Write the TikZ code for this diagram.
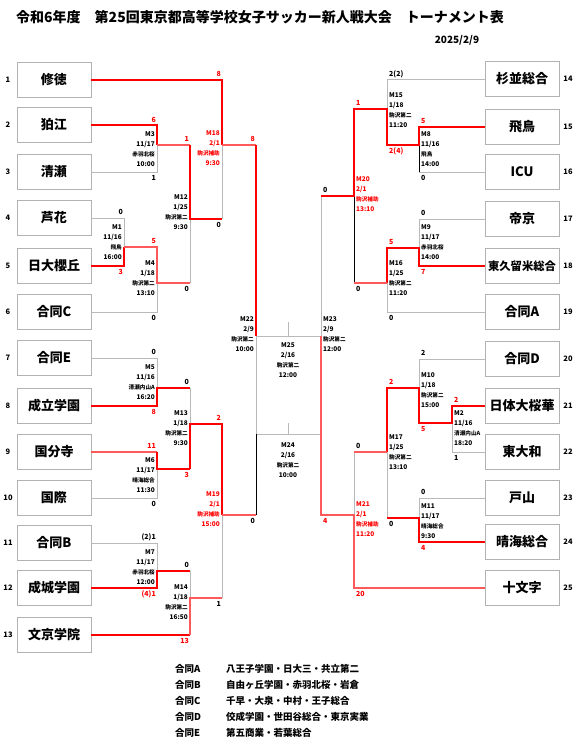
\documentclass[tikz,border=0pt]{standalone}
\usepackage{fontspec}
\setmainfont{Noto Sans CJK JP}
\newcommand{\ven}[1]{{\fontsize{5.6}{10.3}\selectfont #1}}
\begin{document}
\begin{tikzpicture}[x=1pt,y=-1pt,
  team/.style={draw=gray!60,line width=0.8pt,minimum width=74pt,minimum height=35pt,inner sep=0pt,font=\fontsize{13}{13}\selectfont\bfseries},
  num/.style={inner sep=0pt,font=\fontsize{7.5}{8}\selectfont\bfseries},
  win/.style={red,line width=2.2pt},
  winl/.style={red!65,line width=1.6pt},
  lose/.style={gray!55,line width=0.8pt},
  losek/.style={black,line width=0.8pt},
  sc/.style={inner sep=0pt,font=\fontsize{7}{8}\selectfont\bfseries},
  scL/.style={sc,anchor=east},
  scR/.style={sc,anchor=west},
  infoL/.style={anchor=north east,align=right,inner sep=0pt,font=\fontsize{6.5}{10.3}\selectfont\bfseries},
  infoR/.style={anchor=north west,align=left,inner sep=0pt,font=\fontsize{6.5}{10.3}\selectfont\bfseries},
  infoC/.style={anchor=north,align=center,inner sep=0pt,font=\fontsize{6.5}{10.3}\selectfont\bfseries},
  leg/.style={anchor=west,inner sep=0pt,font=\fontsize{9.5}{10}\selectfont\bfseries}]
\useasboundingbox (0,0) rectangle (579,756);

\node[font=\fontsize{14}{14}\selectfont\bfseries] (title) at (260,17) {令和6年度　第25回東京都高等学校女子サッカー新人戦大会　トーナメント表};
\node[font=\fontsize{10}{10}\selectfont\bfseries] (date) at (457,40) {2025/2/9};

\node[team] (t1) at (54,80) {修徳};
\node[team] (t2) at (54,125) {狛江};
\node[team] (t3) at (54,172) {清瀬};
\node[team] (t4) at (54,218) {芦花};
\node[team] (t5) at (54,266) {日大櫻丘};
\node[team] (t6) at (54,312) {合同C};
\node[team] (t7) at (54,358) {合同E};
\node[team] (t8) at (54,406) {成立学園};
\node[team] (t9) at (54,452) {国分寺};
\node[team] (t10) at (54,498) {国際};
\node[team] (t11) at (54,543) {合同B};
\node[team] (t12) at (54,588) {成城学園};
\node[team] (t13) at (54,635) {文京学院};
\node[team] (t14) at (522,79) {杉並総合};
\node[team] (t15) at (522,127) {飛鳥};
\node[team] (t16) at (522,172) {ICU};
\node[team] (t17) at (522,219) {帝京};
\node[team,font=\fontsize{11.3}{12}\selectfont\bfseries] (t18) at (522,266) {東久留米総合};
\node[team] (t19) at (522,312) {合同A};
\node[team] (t20) at (522,359) {合同D};
\node[team] (t21) at (522,406) {日体大桜華};
\node[team] (t22) at (522,452) {東大和};
\node[team] (t23) at (522,498) {戸山};
\node[team] (t24) at (522,542) {晴海総合};
\node[team] (t25) at (522,588) {十文字};

\node[num] (n1) at (8,80) {1};
\node[num] (n2) at (8,125) {2};
\node[num] (n3) at (8,172) {3};
\node[num] (n4) at (8,218) {4};
\node[num] (n5) at (8,266) {5};
\node[num] (n6) at (8,312) {6};
\node[num] (n7) at (8,358) {7};
\node[num] (n8) at (8,406) {8};
\node[num] (n9) at (8,452) {9};
\node[num] (n10) at (8,498) {10};
\node[num] (n11) at (8,543) {11};
\node[num] (n12) at (8,588) {12};
\node[num] (n13) at (8,635) {13};
\node[num] (n14) at (568,79) {14};
\node[num] (n15) at (568,127) {15};
\node[num] (n16) at (568,172) {16};
\node[num] (n17) at (568,219) {17};
\node[num] (n18) at (568,266) {18};
\node[num] (n19) at (568,312) {19};
\node[num] (n20) at (568,359) {20};
\node[num] (n21) at (568,406) {21};
\node[num] (n22) at (568,452) {22};
\node[num] (n23) at (568,498) {23};
\node[num] (n24) at (568,542) {24};
\node[num] (n25) at (568,588) {25};

\coordinate (M1) at (124,247);
\coordinate (M3) at (157,145);
\coordinate (M4) at (157,283);
\coordinate (M5) at (157,388);
\coordinate (M6) at (157,469);
\coordinate (M7) at (157,571);
\coordinate (M12) at (190,219);
\coordinate (M13) at (190,424);
\coordinate (M14) at (190,598);
\coordinate (M18) at (222,145);
\coordinate (M19) at (222,515);
\coordinate (M22) at (256,336);
\coordinate (M2) at (452,423);
\coordinate (M8) at (419,145);
\coordinate (M9) at (419,248);
\coordinate (M10) at (419,388);
\coordinate (M11) at (419,518);
\coordinate (M15) at (387,109);
\coordinate (M16) at (387,283);
\coordinate (M17) at (387,452);
\coordinate (M20) at (354,196);
\coordinate (M21) at (354,515);
\coordinate (M23) at (321,336);
\coordinate (M25) at (288,336);
\coordinate (M25t) at (288,322);
\coordinate (M24) at (288,434);
\coordinate (M24t) at (288,423);
\coordinate (M24L) at (256,434);
\coordinate (M24R) at (321,434);

\draw[lose] (t3.east) -| (M3);
\draw[lose] (t4.east) -| (M1);
\draw[lose] (t6.east) -| (M4);
\draw[lose] (M4 -| M12) -- (M12);
\draw[lose] (M12 -| M18) -- (M18);
\draw[lose] (M22) -- (M24L) -- (M24R);
\draw[lose] (M22) -- (M23);
\draw[lose] (M25) -- (M25t);
\draw[lose] (M24) -- (M24t);
\draw[lose] (t7.east) -| (M5);
\draw[lose] (t10.east) -| (M6);
\draw[lose] (M5 -| M13) -- (M13);
\draw[lose] (M14 -| M19) -- (M19);
\draw[lose] (t11.east) -| (M7);
\draw[lose] (M7 -| M14) -- (M14);
\draw[losek] (M19 -| M22) -- (M24L);
\draw[lose] (t14.west) -| (M15);
\draw[lose] (t16.west) -- (t16.west -| M8);
\draw[losek] (t16.west -| M8) -- (M8);
\draw[lose] (t17.west) -| (M9);
\draw[lose] (t19.west) -| (M16);
\draw[losek] (M16 -| M20) -- (M20);
\draw[lose] (M20 -| M23) -- (M23);
\draw[lose] (t20.west) -| (M10);
\draw[lose] (t22.west) -| (M2);
\draw[lose] (t23.west) -| (M11);
\draw[lose] (M11 -| M17) -- (M17);
\draw[lose] (M17 -| M21) -- (M21);

\draw[win] (t2.east) -| (M3);
\draw[winl] (M3) -- (M3 -| M12);
\draw[win] (t5.east) -| (M1);
\draw[winl] (M1) -- (M1 -| M4) -- (M4) -- (M4 -| M12);
\draw[win] (M3 -| M12) -- (M12) -- (M12 -| M18);
\draw[win] (t1.east) -| (M18);
\draw[winl] (M18) -- (M18 -| M22);
\draw[win] (M18 -| M22) -- (M22);
\draw[win] (t8.east) -| (M5) -- (M5 -| M13);
\draw[winl] (t9.east) -- (t9.east -| M6);
\draw[win] (t9.east -| M6) -- (M6) -- (M6 -| M13);
\draw[win] (M6 -| M13) -- (M13) -- (M13 -| M19) -- (M19);
\draw[winl] (M19) -- (M19 -| M22);
\draw[win] (t12.east) -| (M7) -- (M7 -| M14);
\draw[win] (t13.east) -- (t13.east -| M14);
\draw[winl] (t13.east -| M14) -- (M14) -- (M14 -| M19);
\draw[win] (t15.west) -| (M8) -- (M8 -| M15) -- (M15) -- (M15 -| M20) -- (M20) -- (M20 -| M23);
\draw[win] (t18.west) -| (M9) -- (M9 -| M16) -- (M16);
\draw[winl] (M16) -- (M16 -| M20);
\draw[win] (t21.west) -| (M2) -- (M2 -| M10) -- (M10) -- (M10 -| M17) -- (M17);
\draw[winl] (M17) -- (M17 -| M21);
\draw[win] (t24.west) -| (M11) -- (M11 -| M17);
\draw[winl] (t25.west) -| (M21) -- (M21 -| M23) -- (M23);

\node[scL,red] (s18a) at (221,74) {8};
\node[scL,red] (s3a) at (156,120) {6};
\node[scL] (s3b) at (156,178) {1};
\node[scL,red] (s12a) at (189,139) {1};
\node[scL,red] (s22a) at (255,139) {8};
\node[scL] (s1a) at (123,212) {0};
\node[scL,red] (s1b) at (123,272) {3};
\node[scL,red] (s4a) at (156,241) {5};
\node[scL] (s4b) at (156,318) {0};
\node[scL] (s18b) at (221,225) {0};
\node[scL] (s12b) at (189,289) {0};
\node[scL] (s5a) at (156,352) {0};
\node[scL,red] (s5b) at (156,412) {8};
\node[scL] (s13a) at (189,382) {0};
\node[scL,red] (s19a) at (221,418) {2};
\node[scL,red] (s6a) at (156,446) {11};
\node[scL,red] (s13b) at (189,475) {3};
\node[scL] (s6b) at (156,504) {0};
\node[scL] (s22b) at (255,521) {0};
\node[scL] (s7a) at (156,537) {(2)1};
\node[scL,red] (s7b) at (156,594) {(4)1};
\node[scL] (s14a) at (189,565) {0};
\node[scL] (s19b) at (221,604) {1};
\node[scL,red] (s14b) at (189,641) {13};
\node[scR] (s15a) at (389,74) {2(2)};
\node[scR,red] (s15b) at (389,151) {2(4)};
\node[scR,red] (s20a) at (356,103) {1};
\node[scR,red] (s8a) at (421,121) {5};
\node[scR] (s8b) at (421,178) {0};
\node[scR] (s23a) at (323,190) {0};
\node[scR] (s9a) at (421,213) {0};
\node[scR,red] (s9b) at (421,272) {7};
\node[scR,red] (s16a) at (389,242) {5};
\node[scR] (s20b) at (356,289) {0};
\node[scR] (s16b) at (389,318) {0};
\node[scR] (s10a) at (421,353) {2};
\node[scR,red] (s17a) at (389,382) {2};
\node[scR,red] (s2a) at (454,400) {2};
\node[scR,red] (s10b) at (421,429) {5};
\node[scR] (s2b) at (454,458) {1};
\node[scR] (s21a) at (356,446) {0};
\node[scR] (s11a) at (421,492) {0};
\node[scR] (s17b) at (389,524) {0};
\node[scR,red] (s11b) at (421,548) {4};
\node[scR,red] (s23b) at (323,521) {4};
\node[scR,red] (s21b) at (356,594) {20};

\node[infoL] (i3) at (155,131) {M3\\11/17\\\ven{赤羽北桜}\\10:00};
\node[infoL] (i1) at (122,224) {M1\\11/16\\\ven{飛鳥}\\16:00};
\node[infoL] (i4) at (155,260) {M4\\1/18\\\ven{駒沢第二}\\13:10};
\node[infoL] (i12) at (188,194) {M12\\1/25\\\ven{駒沢第二}\\9:30};
\node[infoL,red] (i18) at (220,130) {M18\\2/1\\\ven{駒沢補助}\\9:30};
\node[infoL] (i22) at (254,316) {M22\\2/9\\\ven{駒沢第二}\\10:00};
\node[infoL] (i5) at (155,364) {M5\\11/16\\\ven{清瀬内山A}\\16:20};
\node[infoL] (i6) at (155,457) {M6\\11/17\\\ven{晴海総合}\\11:30};
\node[infoL] (i13) at (188,410) {M13\\1/18\\\ven{駒沢第二}\\9:30};
\node[infoL] (i7) at (155,549) {M7\\11/17\\\ven{赤羽北桜}\\12:00};
\node[infoL] (i14) at (188,584) {M14\\1/18\\\ven{駒沢第二}\\16:50};
\node[infoL,red] (i19) at (220,491) {M19\\2/1\\\ven{駒沢補助}\\15:00};
\node[infoR] (i23) at (323,316) {M23\\2/9\\\ven{駒沢第二}\\12:00};
\node[infoR] (i15) at (389,92) {M15\\1/18\\\ven{駒沢第二}\\11:20};
\node[infoR] (i8) at (421,131) {M8\\11/16\\\ven{飛鳥}\\14:00};
\node[infoR,red] (i20) at (356,176) {M20\\2/1\\\ven{駒沢補助}\\13:10};
\node[infoR] (i9) at (421,224) {M9\\11/17\\\ven{赤羽北桜}\\14:00};
\node[infoR] (i16) at (389,260) {M16\\1/25\\\ven{駒沢第二}\\11:20};
\node[infoR] (i10) at (421,372) {M10\\1/18\\\ven{駒沢第二}\\15:00};
\node[infoR] (i2) at (454,410) {M2\\11/16\\\ven{清瀬内山A}\\18:20};
\node[infoR] (i17) at (389,434) {M17\\1/25\\\ven{駒沢第二}\\13:10};
\node[infoR] (i11) at (421,503) {M11\\11/17\\\ven{晴海総合}\\9:30};
\node[infoR,red] (i21) at (356,501) {M21\\2/1\\\ven{駒沢補助}\\11:20};
\node[infoC] (i25) at (288,342) {M25\\2/16\\\ven{駒沢第二}\\12:00};
\node[infoC] (i24) at (288,442) {M24\\2/16\\\ven{駒沢第二}\\10:00};

\node[leg] (gA) at (175,669) {合同A};
\node[leg] (gB) at (175,685) {合同B};
\node[leg] (gC) at (175,701) {合同C};
\node[leg] (gD) at (175,717) {合同D};
\node[leg] (gE) at (175,733) {合同E};
\node[leg] (dA) at (226,669) {八王子学園・日大三・共立第二};
\node[leg] (dB) at (226,685) {自由ヶ丘学園・赤羽北桜・岩倉};
\node[leg] (dC) at (226,701) {千早・大泉・中村・王子総合};
\node[leg] (dD) at (226,717) {佼成学園・世田谷総合・東京実業};
\node[leg] (dE) at (226,733) {第五商業・若葉総合};
\end{tikzpicture}
\end{document}
